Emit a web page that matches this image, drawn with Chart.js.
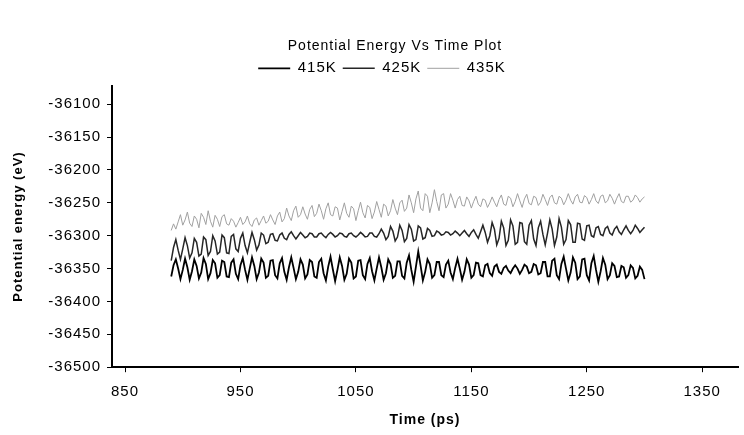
<!DOCTYPE html>
<html>
<head>
<meta charset="utf-8">
<script src="https://cdn.jsdelivr.net/npm/chart.js@4.4.1/dist/chart.umd.min.js"></script>
<style>
  html, body { margin: 0; padding: 0; background: #fff; }
  #wrap { width: 744px; height: 435px; }
</style>
</head>
<body>
<div id="wrap"><canvas id="peChart" width="744" height="435"></canvas></div>
<script>
// sample times (ps)
var times = [
  890, 892, 894, 896, 898, 900, 902, 904, 906, 908, 910, 912, 914, 916, 918, 920, 922, 924, 926, 928,
  930, 932, 934, 936, 938, 940, 942, 944, 946, 948, 950, 952, 954, 956, 958, 960, 962, 964, 966, 968,
  970, 972, 974, 976, 978, 980, 982, 984, 986, 988, 990, 992, 994, 996, 998, 1000, 1002, 1004, 1006, 1008,
  1010, 1012, 1014, 1016, 1018, 1020, 1022, 1024, 1026, 1028, 1030, 1032, 1034, 1036, 1038, 1040, 1042, 1044, 1046, 1048,
  1050, 1052, 1054, 1056, 1058, 1060, 1062, 1064, 1066, 1068, 1070, 1072, 1074, 1076, 1078, 1080, 1082, 1084, 1086, 1088,
  1090, 1092, 1094, 1096, 1098, 1100, 1102, 1104, 1106, 1108, 1110, 1112, 1114, 1116, 1118, 1120, 1122, 1124, 1126, 1128,
  1130, 1132, 1134, 1136, 1138, 1140, 1142, 1144, 1146, 1148, 1150, 1152, 1154, 1156, 1158, 1160, 1162, 1164, 1166, 1168,
  1170, 1172, 1174, 1176, 1178, 1180, 1182, 1184, 1186, 1188, 1190, 1192, 1194, 1196, 1198, 1200, 1202, 1204, 1206, 1208,
  1210, 1212, 1214, 1216, 1218, 1220, 1222, 1224, 1226, 1228, 1230, 1232, 1234, 1236, 1238, 1240, 1242, 1244, 1246, 1248,
  1250, 1252, 1254, 1256, 1258, 1260, 1262, 1264, 1266, 1268, 1270, 1272, 1274, 1276, 1278, 1280, 1282, 1284, 1286, 1288,
  1290, 1292, 1294, 1296, 1298, 1300
];

// potential energy (eV)
var pe415 = [
  -36362, -36345, -36336, -36350, -36366, -36352, -36335, -36348, -36367, -36354,
  -36336, -36346, -36365, -36356, -36334, -36343, -36366, -36357, -36337, -36342,
  -36364, -36360, -36338, -36340, -36362, -36363, -36341, -36336, -36358, -36366,
  -36345, -36334, -36352, -36367, -36350, -36333, -36346, -36366, -36356, -36335,
  -36341, -36364, -36361, -36338, -36337, -36360, -36365, -36342, -36334, -36355,
  -36367, -36348, -36333, -36349, -36366, -36355, -36336, -36344, -36365, -36359,
  -36337, -36340, -36362, -36364, -36340, -36335, -36357, -36368, -36347, -36332,
  -36351, -36369, -36352, -36333, -36346, -36367, -36358, -36335, -36341, -36365,
  -36362, -36338, -36337, -36360, -36366, -36343, -36334, -36354, -36368, -36350,
  -36333, -36348, -36367, -36357, -36336, -36343, -36364, -36361, -36339, -36339,
  -36361, -36365, -36341, -36330, -36352, -36370, -36347, -36324, -36345, -36368,
  -36355, -36336, -36343, -36364, -36360, -36340, -36340, -36360, -36363, -36344,
  -36338, -36356, -36366, -36349, -36335, -36350, -36367, -36355, -36336, -36344,
  -36364, -36360, -36341, -36342, -36360, -36362, -36345, -36343, -36357, -36361,
  -36347, -36344, -36355, -36358, -36349, -36346, -36353, -36357, -36350, -36345,
  -36350, -36358, -36352, -36344, -36347, -36357, -36355, -36343, -36345, -36359,
  -36357, -36340, -36340, -36362, -36362, -36338, -36335, -36360, -36366, -36343,
  -36332, -36350, -36368, -36356, -36333, -36341, -36366, -36362, -36336, -36335,
  -36360, -36368, -36342, -36331, -36352, -36370, -36354, -36334, -36344, -36366,
  -36360, -36342, -36346, -36363, -36362, -36346, -36348, -36364, -36360, -36345,
  -36349, -36365, -36361, -36347, -36352, -36366
];

var pe425 = [
  -36338, -36318, -36306, -36322, -36336, -36320, -36303, -36315, -36334, -36326,
  -36304, -36310, -36331, -36328, -36302, -36306, -36330, -36324, -36300, -36308,
  -36328, -36325, -36299, -36303, -36326, -36327, -36301, -36298, -36320, -36324,
  -36304, -36296, -36315, -36326, -36310, -36295, -36306, -36322, -36314, -36296,
  -36299, -36312, -36310, -36298, -36297, -36307, -36308, -36299, -36296, -36304,
  -36306, -36298, -36294, -36300, -36305, -36300, -36295, -36299, -36303, -36301,
  -36296, -36297, -36302, -36302, -36297, -36296, -36300, -36303, -36298, -36295,
  -36298, -36302, -36300, -36296, -36297, -36301, -36302, -36297, -36296, -36300,
  -36302, -36299, -36295, -36298, -36302, -36301, -36296, -36296, -36301, -36302,
  -36297, -36290, -36296, -36306, -36301, -36286, -36293, -36308, -36302, -36284,
  -36292, -36309, -36304, -36283, -36290, -36308, -36306, -36285, -36288, -36305,
  -36303, -36289, -36292, -36301, -36300, -36293, -36295, -36299, -36298, -36294,
  -36295, -36299, -36297, -36293, -36296, -36300, -36296, -36292, -36297, -36301,
  -36295, -36291, -36298, -36304, -36294, -36284, -36295, -36310, -36300, -36280,
  -36290, -36314, -36304, -36278, -36288, -36315, -36307, -36276, -36285, -36313,
  -36310, -36280, -36281, -36309, -36313, -36284, -36277, -36305, -36315, -36288,
  -36278, -36298, -36314, -36296, -36276, -36290, -36315, -36302, -36274, -36287,
  -36313, -36306, -36277, -36283, -36310, -36310, -36281, -36282, -36305, -36307,
  -36285, -36284, -36300, -36302, -36288, -36286, -36298, -36300, -36289, -36286,
  -36296, -36299, -36290, -36286, -36294, -36298, -36291, -36285, -36292, -36297,
  -36292, -36284, -36289, -36295, -36291, -36287
];

var pe435 = [
  -36292, -36282, -36290, -36279, -36268, -36284, -36276, -36264, -36281, -36286,
  -36270, -36275, -36288, -36266, -36272, -36283, -36262, -36278, -36287, -36269,
  -36275, -36286, -36271, -36268, -36282, -36284, -36274, -36278, -36287, -36280,
  -36272, -36283, -36279, -36270, -36282, -36286, -36276, -36273, -36284, -36277,
  -36270, -36281, -36278, -36268, -36276, -36283, -36270, -36264, -36279, -36274,
  -36258, -36270, -36277, -36262, -36255, -36272, -36268, -36256, -36267, -36275,
  -36260, -36254, -36271, -36266, -36252, -36262, -36275, -36259, -36250, -36268,
  -36270, -36256, -36258, -36276, -36263, -36250, -36266, -36272, -36255, -36259,
  -36277, -36262, -36249, -36265, -36273, -36254, -36257, -36274, -36264, -36248,
  -36260, -36272, -36252, -36255, -36270, -36262, -36245, -36258, -36268, -36250,
  -36246, -36263, -36258, -36238, -36250, -36265, -36244, -36232, -36258, -36262,
  -36236, -36240, -36265, -36250, -36230, -36248, -36262, -36238, -36236, -36258,
  -36252, -36236, -36246, -36258, -36245, -36240, -36254, -36255, -36241, -36247,
  -36258, -36248, -36240, -36252, -36256, -36244, -36246, -36257, -36250, -36241,
  -36249, -36256, -36245, -36238, -36252, -36254, -36240, -36243, -36256, -36248,
  -36236, -36247, -36257, -36244, -36237, -36251, -36253, -36240, -36242, -36254,
  -36249, -36237, -36245, -36254, -36242, -36238, -36250, -36252, -36240, -36243,
  -36253, -36246, -36236, -36246, -36252, -36241, -36237, -36249, -36250, -36239,
  -36242, -36252, -36245, -36236, -36247, -36251, -36240, -36238, -36250, -36247,
  -36237, -36243, -36252, -36243, -36236, -36248, -36250, -36240, -36240, -36249,
  -36246, -36238, -36242, -36249, -36244, -36241
];

var xTicks = [850, 950, 1050, 1150, 1250, 1350];
var yTicks = [-36500, -36450, -36400, -36350, -36300, -36250, -36200, -36150, -36100];

function pts(vals) {
    var out = [];
    for (var i = 0; i < vals.length; i++) {
        out.push({ x: times[i], y: vals[i] });
    }
    return out;
}

function series(label, vals, color, width) {
    return {
        label: label,
        data: pts(vals),
        borderColor: color,
        backgroundColor: color,
        borderWidth: width,
        pointRadius: 0,
        pointStyle: 'line',
        tension: 0,
        fill: false
    };
}

var FAMILY = 'Liberation Sans, Arial, sans-serif';
var tickFont = { family: FAMILY, size: 15 };

// spaced-out lettering like the scanned original, and the header sits right of centre
var lookTweaks = {
    id: 'lookTweaks',
    afterInit: function (chart) { chart.ctx.letterSpacing = '1px'; },
    beforeUpdate: function (chart) { chart.ctx.letterSpacing = '1px'; },
    afterLayout: function (chart) {
        chart.titleBlock.left += 46;
        chart.legend.left += 20;
    }
};

new Chart(document.getElementById('peChart'), {
    type: 'line',
    data: {
        datasets: [
            series('415K', pe415, '#000000', 1.8),
            series('425K', pe425, '#262626', 1.5),
            series('435K', pe435, '#a0a0a0', 1)
        ]
    },
    plugins: [lookTweaks],
    options: {
        responsive: false,
        animation: false,
        layout: { padding: { top: 38, right: 6, bottom: 6, left: 6 } },
        plugins: {
            title: {
                display: true,
                text: 'Potential Energy Vs Time Plot',
                color: '#000',
                font: { family: FAMILY, size: 14, weight: 'normal' },
                padding: { top: 0, bottom: 0 }
            },
            legend: {
                display: true,
                position: 'top',
                labels: {
                    color: '#000',
                    font: tickFont,
                    usePointStyle: true,
                    pointStyleWidth: 32,
                    boxHeight: 15,
                    padding: 6
                }
            },
            tooltip: { enabled: false }
        },
        scales: {
            x: {
                type: 'linear',
                min: 838.7,
                max: 1381,
                afterBuildTicks: function (axis) {
                    axis.ticks = xTicks.map(function (v) { return { value: v }; });
                },
                ticks: {
                    color: '#000', font: tickFont, padding: 11, maxRotation: 0,
                    callback: function (v) { return String(v); }
                },
                grid: { drawOnChartArea: false, drawTicks: true, tickLength: 5, color: '#000' },
                border: { color: '#000', width: 2 },
                title: {
                    display: true,
                    text: 'Time (ps)',
                    color: '#000',
                    font: { family: FAMILY, size: 14, weight: 'bold' },
                    padding: { top: 0, bottom: 0 }
                }
            },
            y: {
                type: 'linear',
                min: -36500,
                max: -36072,
                afterBuildTicks: function (axis) {
                    axis.ticks = yTicks.map(function (v) { return { value: v }; });
                },
                afterFit: function (scale) { scale.width = 106; },
                ticks: {
                    color: '#000', font: tickFont, padding: 6,
                    callback: function (v) { return String(v); }
                },
                grid: { drawOnChartArea: false, drawTicks: true, tickLength: 5, color: '#000' },
                border: { color: '#000', width: 2 },
                title: {
                    display: true,
                    text: 'Potential energy (eV)',
                    color: '#000',
                    font: { family: FAMILY, size: 13, weight: 'bold' },
                    padding: { top: 5, bottom: 0 }
                }
            }
        }
    }
});
</script>
</body>
</html>
